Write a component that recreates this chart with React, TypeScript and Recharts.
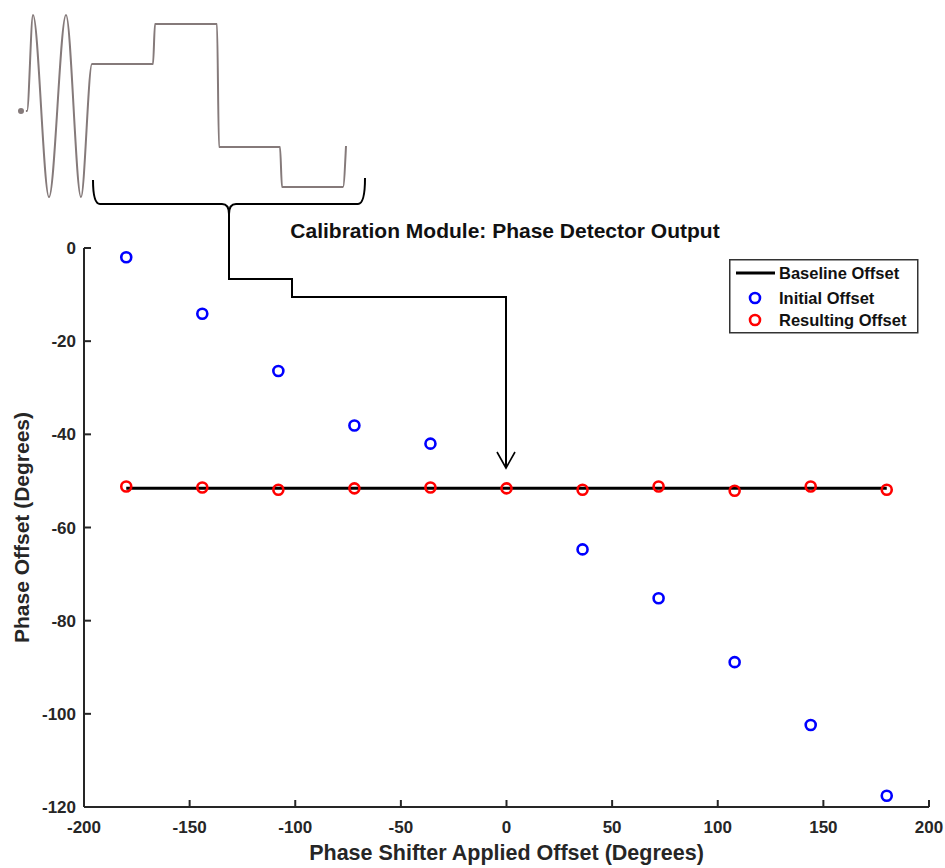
import { ComposedChart, Line, LineChart, Scatter, XAxis, YAxis } from 'recharts';

const FONT = '"Liberation Sans", Arial, Helvetica, sans-serif';
const AXIS = '#262626';

// phase shifter settings (degrees)
const initialX = [-180, -144, -108, -72, -36, 36, 72, 108, 144, 180];
const initialY = [-2, -14.1, -26.4, -38.1, -42, -64.7, -75.2, -88.9, -102.4, -117.6];
const resultX = [-180, -144, -108, -72, -36, 0, 36, 72, 108, 144, 180];
const resultY = [-51.2, -51.4, -51.9, -51.6, -51.4, -51.6, -51.9, -51.2, -52.1, -51.2, -51.9];
const baselineX = [-180, 180];
const baselineY = [-51.6, -51.6];

const xTicks = [-200, -150, -100, -50, 0, 50, 100, 150, 200];
const yTicks = [-120, -100, -80, -60, -40, -20, 0];

// phase detector trace for the inset (screen units, y down)
const traceT = [21, 27, 33, 49, 66, 81, 92, 153, 155, 217, 219, 280, 282, 343, 346];
const traceV = [111, 111, 15, 197, 15, 197, 64, 64, 24, 24, 147, 147, 187, 187, 146];

const zip = (xs: number[], ys: number[]) => xs.map((x, i) => ({ x, y: ys[i] }));
const initialData = zip(initialX, initialY);
const resultData = zip(resultX, resultY);
const baselineData = zip(baselineX, baselineY);
const traceData = zip(traceT, traceV);

function ring(color: string) {
  return (props: any) => (
    <circle cx={props.cx} cy={props.cy} r={5} fill="none" stroke={color} strokeWidth={2.6} />
  );
}

function LegendBox() {
  const text = { fontFamily: FONT, fontWeight: 700, fontSize: 16.5, fill: '#111' };
  return (
    <svg width={190} height={75}>
      <rect x={0.75} y={0.75} width={188} height={73} fill="#fff" stroke="#333" strokeWidth={1.5} />
      <line x1={7} x2={46} y1={14} y2={14} stroke="#000" strokeWidth={3} />
      <text x={50} y={20} {...text}>Baseline Offset</text>
      <circle cx={26} cy={39} r={5} fill="none" stroke="#0000ff" strokeWidth={2.6} />
      <text x={50} y={45} {...text}>Initial Offset</text>
      <circle cx={26} cy={61} r={5} fill="none" stroke="#ff0000" strokeWidth={2.6} />
      <text x={50} y={67} {...text}>Resulting Offset</text>
    </svg>
  );
}

const tickStyle = { fontSize: 17, fontWeight: 700, fill: AXIS, fontFamily: FONT };

export default function App() {
  return (
    <div style={{ position: 'absolute', left: 0, top: 0, width: 945, height: 868, background: '#fff' }}>
      <ComposedChart width={945} height={868} margin={{ top: 248, right: 16, bottom: 31, left: 24 }}>
        <XAxis
          type="number"
          dataKey="x"
          domain={[-200, 200]}
          ticks={xTicks}
          height={30}
          stroke={AXIS}
          strokeWidth={2}
          tickSize={-7}
          tickMargin={21}
          tick={tickStyle}
          label={{ value: 'Phase Shifter Applied Offset (Degrees)', position: 'bottom', offset: 8, style: { fontSize: 21.5, fontWeight: 700, fill: AXIS, fontFamily: FONT } }}
        />
        <YAxis
          type="number"
          dataKey="y"
          domain={[-120, 0]}
          ticks={yTicks}
          width={60}
          stroke={AXIS}
          strokeWidth={2}
          tickSize={-7}
          tickMargin={15}
          tick={tickStyle}
          label={{ value: 'Phase Offset (Degrees)', angle: -90, position: 'insideLeft', offset: -2, style: { textAnchor: 'middle', fontSize: 21, fontWeight: 700, fill: AXIS, fontFamily: FONT } }}
        />
        <Line data={baselineData} dataKey="y" name="Baseline Offset" stroke="#000" strokeWidth={3} dot={false} isAnimationActive={false} />
        <Scatter data={initialData} dataKey="y" name="Initial Offset" shape={ring('#0000ff')} isAnimationActive={false} />
        <Scatter data={resultData} dataKey="y" name="Resulting Offset" shape={ring('#ff0000')} isAnimationActive={false} />
      </ComposedChart>

      <div style={{ position: 'absolute', left: 729, top: 259 }}>
        <LegendBox />
      </div>

      <div style={{ position: 'absolute', left: 0, top: 0 }}>
        <LineChart width={370} height={200} data={traceData} margin={{ top: 0, right: 0, bottom: 0, left: 0 }}>
          <XAxis type="number" dataKey="x" domain={[0, 370]} hide />
          <YAxis type="number" domain={[0, 200]} reversed hide />
          <Line type="monotone" dataKey="y" stroke="#857a7a" strokeWidth={2} dot={false} isAnimationActive={false} />
        </LineChart>
      </div>

      <svg width={945} height={868} style={{ position: 'absolute', left: 0, top: 0, pointerEvents: 'none' }}>
        <path
          d="M93,180 Q93,204 100,204 L222,204 Q229,204 229,214 L229,279 L292,279 L292,297 L506,297 L506,467 M365,178 Q365,204 358,204 L236,204 Q229,204 229,214"
          fill="none"
          stroke="#000"
          strokeWidth={2}
        />
        <path d="M497,452 L506,468 L515,452" fill="none" stroke="#000" strokeWidth={1.6} />
        <text x={505} y={238} textAnchor="middle" fontFamily={FONT} fontWeight={700} fontSize={21} fill="#111">
          Calibration Module: Phase Detector Output
        </text>
      </svg>
    </div>
  );
}
